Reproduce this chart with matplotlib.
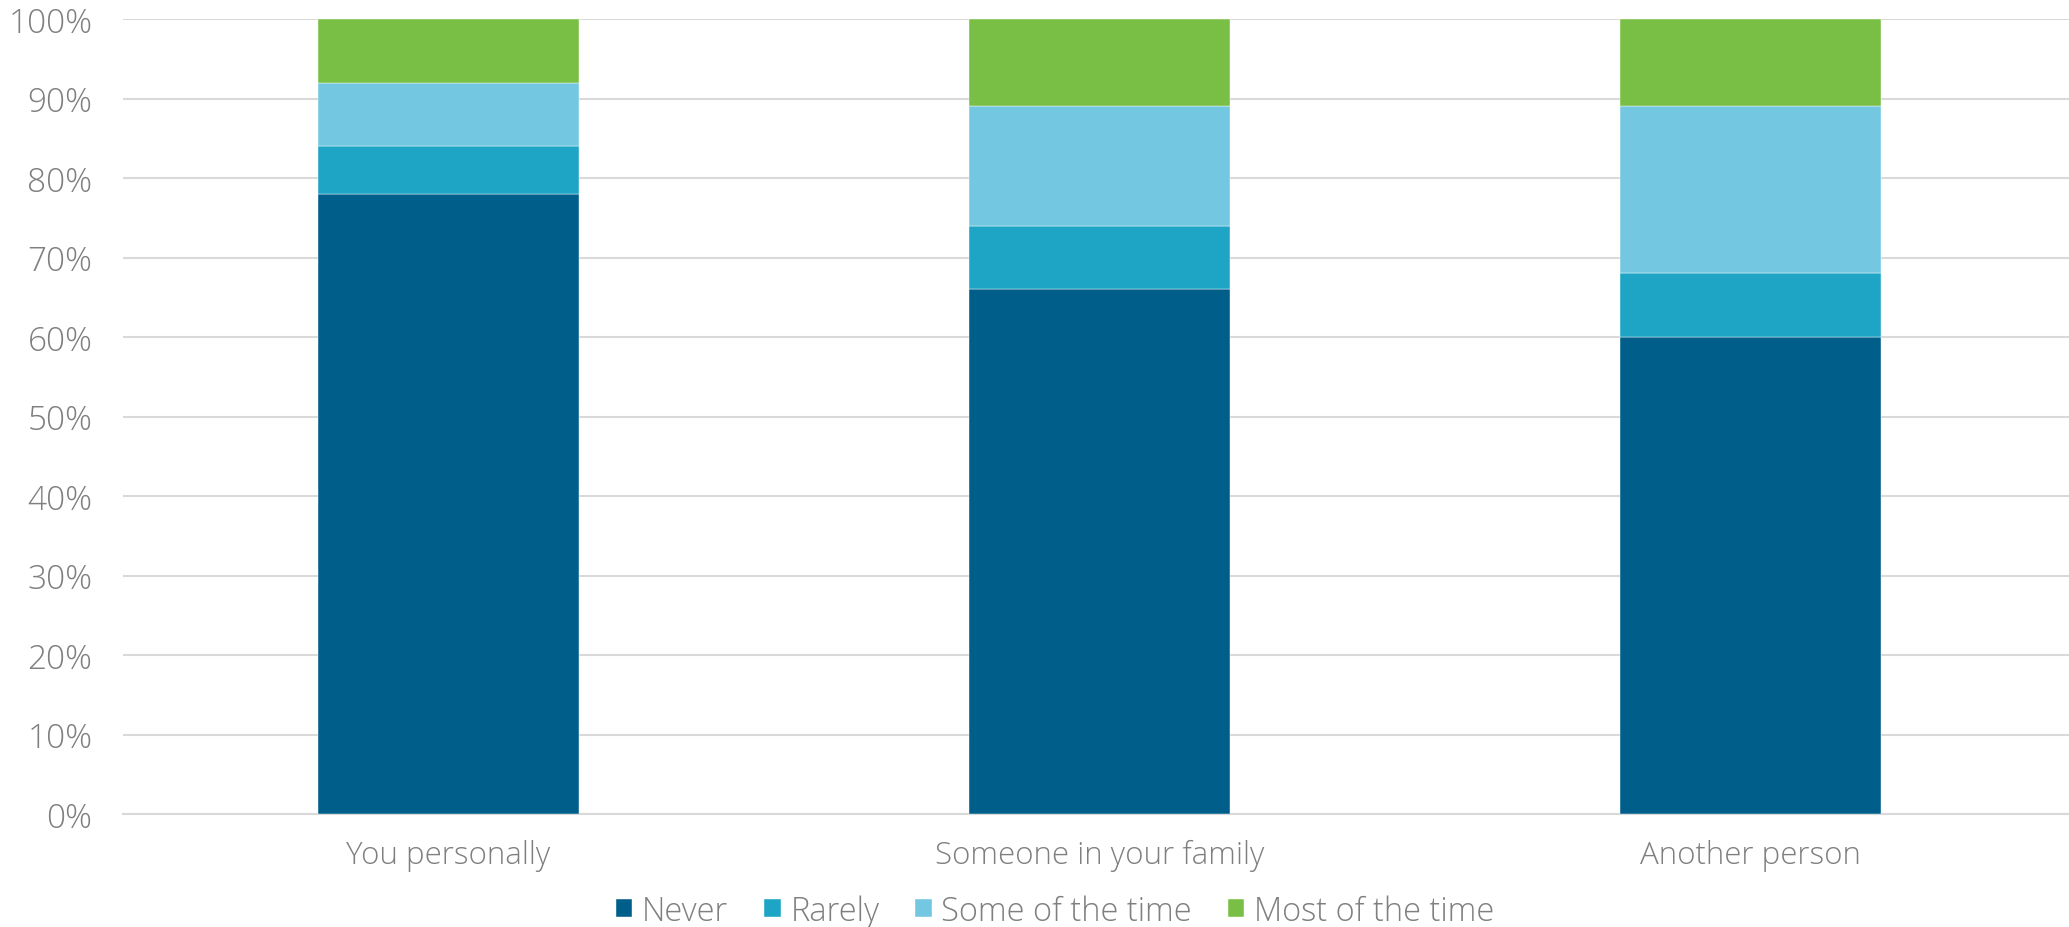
import matplotlib
matplotlib.use("Agg")
import matplotlib.pyplot as plt
import numpy as np
from matplotlib.ticker import PercentFormatter

plt.rcParams['font.family'] = ['Open Sans', 'DejaVu Sans']

categories = ["You personally", "Someone in your family", "Another person"]
series = ["Never", "Rarely", "Some of the time", "Most of the time"]
never = [78, 66, 60]
rarely = [6, 8, 8]
some_time = [8, 15, 21]
most_time = [8, 11, 11]
colors = ["#005e8a", "#1ea5c6", "#73c7e0", "#7abf45"]

fig = plt.figure(figsize=(20.69, 9.28), dpi=100)
ax = fig.add_axes([123 / 2069, 1 - 815 / 928, 1953 / 2069, (815 - 20) / 928])

x = np.arange(len(categories))
bottom = np.zeros(len(categories))
for name, vals, col in zip(series, [never, rarely, some_time, most_time], colors):
    ax.bar(x, vals, 0.4, bottom=bottom, color=col, label=name,
           edgecolor="#ffffff", linewidth=0.3, zorder=3)
    bottom += np.array(vals)

ax.set_xlim(-0.5, 2.5)
ax.set_ylim(0, 100)
ax.set_yticks(range(0, 101, 10))
ax.yaxis.set_major_formatter(PercentFormatter(decimals=0))
ax.set_xticks(x)
ax.set_xticklabels(categories)
ax.grid(axis="y", color="#d9d9d9", linewidth=1.5, zorder=0)
for s in ["top", "right", "left"]:
    ax.spines[s].set_visible(False)
ax.spines["bottom"].set_color("#d9d9d9")
ax.spines["bottom"].set_linewidth(1.5)
ax.tick_params(axis="both", length=0, labelcolor="#7f7f7f")
ax.tick_params(axis="y", labelsize=24, pad=22)
ax.tick_params(axis="x", labelsize=22.5, pad=18)
for lbl in ax.get_xticklabels() + ax.get_yticklabels():
    lbl.set_fontweight("light")

leg = fig.legend(loc="center", bbox_to_anchor=(0.51, 1 - 912 / 928), ncol=4,
                 frameon=False, fontsize=23.5, handlelength=0.5, handleheight=0.5,
                 handletextpad=0.3, columnspacing=1.1)
for t in leg.get_texts():
    t.set_color("#7f7f7f")
    t.set_fontweight("light")

fig.savefig("out.png", dpi=100)
